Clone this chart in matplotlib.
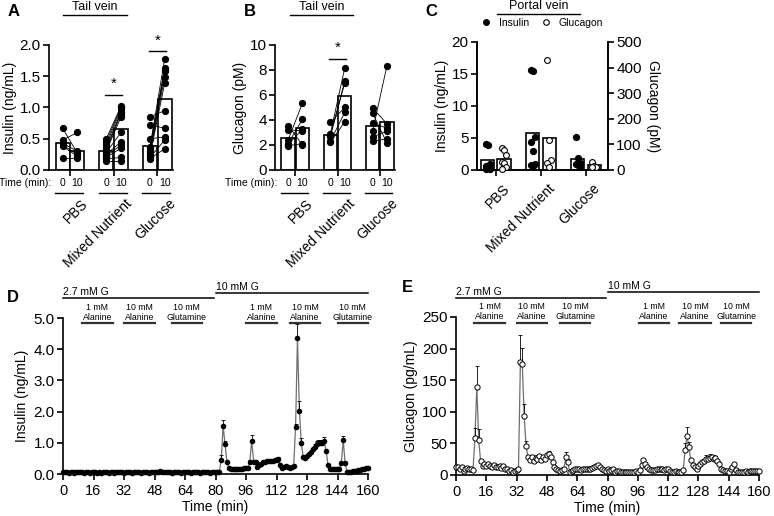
import numpy as np
import matplotlib
matplotlib.use('Agg')
import matplotlib.pyplot as plt
from matplotlib.lines import Line2D

plt.rcParams['font.family'] = ['Liberation Sans', 'DejaVu Sans']
plt.rcParams['axes.linewidth'] = 1.2
plt.rcParams['xtick.major.width'] = 1.2
plt.rcParams['ytick.major.width'] = 1.2
plt.rcParams['xtick.major.size'] = 4
plt.rcParams['ytick.major.size'] = 4
plt.rcParams['ytick.major.pad'] = 2
plt.rcParams['xtick.labelsize'] = 11
plt.rcParams['ytick.labelsize'] = 11

groups = ['PBS', 'Mixed Nutrient', 'Glucose']
time_labels = ['0', '10']

# A: tail vein insulin (ng/mL), paired 0 / 10 min
ins_tail_0 = [[0.67, 0.48, 0.43, 0.40, 0.38, 0.19],
              [0.50, 0.45, 0.40, 0.35, 0.32, 0.30, 0.28, 0.25, 0.22, 0.20, 0.18, 0.15],
              [0.85, 0.72, 0.50, 0.36, 0.35, 0.30, 0.28, 0.25, 0.22, 0.20, 0.18]]
ins_tail_10 = [[0.27, 0.60, 0.30, 0.25, 0.22, 0.19],
               [1.02, 1.00, 0.97, 0.93, 0.90, 0.85, 0.60, 0.45, 0.40, 0.35, 0.20, 0.15],
               [0.95, 0.67, 0.53, 1.78, 1.63, 1.60, 1.58, 1.49, 1.39, 0.48, 0.34]]

# B: tail vein glucagon (pM)
gcg_tail_0 = [[3.55, 3.20, 2.40, 2.10, 2.00, 1.95],
              [3.80, 2.90, 2.75, 2.70, 2.30, 2.20],
              [4.95, 4.55, 3.75, 3.10, 2.65, 2.30]]
gcg_tail_10 = [[2.00, 3.15, 5.35, 4.05, 3.30, 2.10],
               [5.00, 8.15, 7.10, 6.95, 4.60, 3.85],
               [3.70, 2.15, 3.35, 8.35, 3.10, 2.50]]

# C: portal vein insulin (ng/mL) and glucagon (pM)
ins_portal = [[4.1, 3.9, 1.0, 0.7, 0.4, 0.2, 0.1],
              [15.6, 15.5, 5.1, 4.4, 3.0, 0.9, 0.8, 0.7],
              [5.2, 1.9, 1.1, 1.0, 0.8, 0.4]]
gcg_portal = [[85, 78, 58, 30, 26, 12, 5],
              [428, 117, 39, 28, 12],
              [32, 17, 13, 10]]

# D / E: perifusion, one sample per minute
minutes = np.arange(0, 161)
insulin_perif = [0.05, 0.05, 0.05, 0.04, 0.05, 0.05, 0.04, 0.05, 0.05, 0.05,
                 0.05, 0.04, 0.05, 0.05, 0.04, 0.05, 0.05, 0.05, 0.04, 0.05,
                 0.04, 0.05, 0.05, 0.05, 0.04, 0.05, 0.05, 0.04, 0.05, 0.05,
                 0.05, 0.05, 0.04, 0.05, 0.05, 0.05, 0.04, 0.05, 0.05, 0.05,
                 0.05, 0.04, 0.05, 0.05, 0.05, 0.04, 0.05, 0.05, 0.05, 0.06,
                 0.08, 0.09, 0.07, 0.06, 0.05, 0.05, 0.05, 0.04, 0.05, 0.05,
                 0.05, 0.05, 0.04, 0.05, 0.05, 0.05, 0.05, 0.04, 0.05, 0.05,
                 0.05, 0.05, 0.04, 0.05, 0.05, 0.05, 0.05, 0.04, 0.05, 0.05,
                 0.05, 0.05, 0.06, 0.45, 1.54, 0.97, 0.38, 0.20, 0.16, 0.15,
                 0.15, 0.15, 0.16, 0.16, 0.17, 0.18, 0.19, 0.20, 0.40, 1.07,
                 0.40, 0.38, 0.22, 0.28, 0.33, 0.38, 0.40, 0.41, 0.42, 0.42,
                 0.43, 0.44, 0.45, 0.48, 0.30, 0.18, 0.22, 0.25, 0.22, 0.20,
                 0.22, 0.25, 1.50, 4.35, 2.03, 1.00, 0.55, 0.50, 0.58, 0.65,
                 0.72, 0.80, 0.88, 0.95, 1.00, 0.98, 1.00, 1.05, 0.75, 0.30,
                 0.16, 0.15, 0.15, 0.15, 0.15, 0.16, 0.35, 1.08, 0.35, 0.08,
                 0.07, 0.08, 0.09, 0.10, 0.11, 0.12, 0.13, 0.15, 0.16, 0.18, 0.19]
insulin_sem = {83: 0.15, 84: 0.2, 85: 0.1, 98: 0.05, 99: 0.18, 113: 0.07,
               122: 0.1, 123: 0.45, 124: 0.32, 125: 0.15, 132: 0.08, 133: 0.1,
               134: 0.1, 135: 0.12, 136: 0.1, 137: 0.15, 147: 0.15}
glucagon_perif = [12, 13, 10, 12, 7, 10, 11, 9, 10, 8,
                  59, 140, 55, 22, 15, 18, 14, 17, 15, 13,
                  16, 12, 13, 15, 11, 14, 10, 9, 7, 8,
                  5, 6, 8, 10, 179, 176, 94, 46, 29, 24,
                  28, 22, 27, 25, 30, 24, 28, 26, 31, 33,
                  28, 20, 12, 9, 8, 7, 8, 9, 29, 21,
                  5, 7, 8, 9, 9, 10, 8, 9, 10, 9,
                  10, 9, 11, 12, 14, 16, 12, 10, 8, 6,
                  10, 6, 8, 9, 5, 7, 6, 4, 4, 5,
                  4, 5, 4, 5, 5, 6, 5, 8, 16, 24,
                  17, 12, 10, 8, 8, 8, 9, 9, 9, 9,
                  8, 10, 9, 7, 5, 5, 6, 5, 5, 4,
                  8, 40, 62, 44, 23, 16, 12, 10, 14, 18,
                  20, 22, 25, 26, 27, 28, 25, 27, 22, 18,
                  10, 8, 7, 6, 5, 10, 12, 17, 8, 5,
                  5, 4, 5, 6, 5, 6, 6, 7, 6, 6, 6]
glucagon_sem = {10: 15, 11: 33, 12: 18, 34: 43, 35: 25, 36: 18, 37: 8, 39: 7,
                41: 8, 43: 6, 47: 6, 49: 5, 58: 8, 59: 5, 121: 10, 122: 14,
                123: 8, 132: 6, 134: 7, 136: 7}

phase_labels = ['2.7 mM G', '10 mM G']
phase_spans = [(0, 79), (80, 160)]
stim_labels = ['1 mM\nAlanine', '10 mM\nAlanine', '10 mM\nGlutamine'] * 2
stim_spans_d = [(10, 26), (32, 48), (57, 73), (96, 112), (119, 135), (144, 160)]
stim_spans_e = [(9.5, 26), (32, 48), (55, 71), (96.5, 112.5), (118, 134.5), (140, 156)]

fig = plt.figure(figsize=(7.74, 5.16), dpi=100)


def px_axes(l, t, r, b):
    W, H = 774, 516
    return fig.add_axes([l / W, 1 - b / H, (r - l) / W, (b - t) / H])


def clean(ax, right=False):
    ax.spines['top'].set_visible(False)
    if not right:
        ax.spines['right'].set_visible(False)


def paired_panel(ax, pre, post, ylim, yticks, ylabel, fmt, sig):
    for g in range(3):
        xs = [g - 0.17, g + 0.17]
        ax.bar(xs, [np.mean(pre[g]), np.mean(post[g])], width=0.32,
               color='white', edgecolor='black', lw=1.2, zorder=1)
        for a, b in zip(pre[g], post[g]):
            ax.plot(xs, [a, b], color='black', lw=0.6, zorder=2)
        ax.plot([xs[0]] * len(pre[g]), pre[g], 'o', ms=4.2, color='black', zorder=3, clip_on=False)
        ax.plot([xs[1]] * len(post[g]), post[g], 'o', ms=4.2, color='black', zorder=3, clip_on=False)
        tr = ax.get_xaxis_transform()
        for x, lab in zip(xs, time_labels):
            ax.text(x, -0.104, lab, transform=tr, ha='center', va='center', fontsize=7.5)
        ax.add_line(Line2D([g - 0.34, g + 0.30], [-0.184, -0.184], transform=tr,
                           color='black', lw=1.0, clip_on=False))
        ax.text(g + 0.25, -0.21, groups[g], transform=tr, rotation=45, ha='right',
                va='top', rotation_mode='anchor', fontsize=10)
    ax.text(-0.42, -0.104, 'Time (min):', transform=ax.get_xaxis_transform(),
            ha='right', va='center', fontsize=7.5)
    for g, yline in sig:
        ax.plot([g - 0.2, g + 0.2], [yline, yline], color='black', lw=1.0, clip_on=False)
        ax.text(g, yline + (ylim[1] - ylim[0]) * 0.03, '*', ha='center', va='bottom',
                fontsize=11, clip_on=False)
    ax.set_xlim(-0.48, 2.36)
    ax.set_ylim(*ylim)
    ax.set_yticks(yticks)
    ax.set_yticklabels([fmt.format(v) for v in yticks])
    ax.set_xticks(range(3))
    ax.set_xticklabels([])
    ax.set_ylabel(ylabel, fontsize=10, labelpad=2)
    clean(ax)


def header(ax, x0, x1, y, text):
    ax.add_line(Line2D([x0, x1], [y, y], transform=ax.transAxes, color='black',
                       lw=1.0, clip_on=False))
    ax.text((x0 + x1) / 2, y + 0.012, text, transform=ax.transAxes, ha='center',
            va='bottom', fontsize=9)


# Panel A
axA = px_axes(49, 45, 173, 170)
paired_panel(axA, ins_tail_0, ins_tail_10, (0, 2.0), [0, 0.5, 1.0, 1.5, 2.0],
             'Insulin (ng/mL)', '{:.1f}', [(1, 1.2), (2, 1.9)])
header(axA, 0.113, 0.629, 1.24, 'Tail vein')

# Panel B
axB = px_axes(275, 45, 395, 170)
paired_panel(axB, gcg_tail_0, gcg_tail_10, (0, 10), [0, 2, 4, 6, 8, 10],
             'Glucagon (pM)', '{:d}', [(1, 8.9)])
header(axB, 0.125, 0.65, 1.24, 'Tail vein')

# Panel C
axC = px_axes(477, 42, 608, 170)
axC2 = axC.twinx()
for g in range(3):
    xi, xg = g - 0.18, g + 0.18
    axC.bar(xi, np.mean(ins_portal[g]), width=0.29, color='white', edgecolor='black', lw=1.2, zorder=1)
    axC2.bar(xg, np.mean(gcg_portal[g]), width=0.29, color='white', edgecolor='black', lw=1.2, zorder=1)
    n = len(ins_portal[g])
    offs = [((i % 3) - 1) * 0.05 for i in range(n)]
    axC.plot([xi + o for o in offs], ins_portal[g], 'o', ms=4.2, color='black', zorder=3, clip_on=False)
    m = len(gcg_portal[g])
    offs = [((i % 3) - 1) * 0.05 for i in range(m)]
    axC2.plot([xg + o for o in offs], gcg_portal[g], 'o', ms=4.2, mfc='white', mec='black',
              mew=0.8, zorder=3, clip_on=False)
    axC.text(g + 0.15, -0.09, groups[g], transform=axC.get_xaxis_transform(), rotation=45,
             ha='right', va='top', rotation_mode='anchor', fontsize=10)
axC.set_xlim(-0.42, 2.49)
axC.set_ylim(0, 20)
axC.set_yticks([0, 5, 10, 15, 20])
axC2.set_ylim(0, 500)
axC2.set_yticks([0, 100, 200, 300, 400, 500])
axC2.tick_params(axis='y', pad=2)
axC.set_xticks(range(3))
axC.set_xticklabels([])
axC.set_ylabel('Insulin (ng/mL)', fontsize=10, labelpad=2)
axC2.set_ylabel('Glucagon (pM)', fontsize=10, rotation=270, labelpad=13)
axC.spines['top'].set_visible(False)
axC2.spines['top'].set_visible(False)
axC2.spines['right'].set_linewidth(1.2)
header(axC, 0.153, 0.786, 1.22, 'Portal vein')
leg_handles = [Line2D([], [], marker='o', ls='none', ms=4, color='black'),
               Line2D([], [], marker='o', ls='none', ms=4, mfc='white', mec='black', mew=0.8)]
axC.legend(leg_handles, ['Insulin', 'Glucagon'], ncol=2, frameon=False, fontsize=7.5,
           loc='center', bbox_to_anchor=(0.49, 1.148), handletextpad=0.6,
           columnspacing=1.0, handlelength=1.2, borderaxespad=0)


def perifusion(ax, values, sem, default_sem, open_marker, ylim, yticks, fmt, ylabel,
               stim_spans, phase_y):
    err = [sem.get(int(m), default_sem) for m in minutes]
    ax.plot(minutes, values, color='#707070', lw=0.9, zorder=2)
    ax.errorbar(minutes, values, yerr=[np.zeros(len(err)), err], fmt='none',
                ecolor='black', elinewidth=0.6, capsize=1.5, capthick=0.6, zorder=3)
    if open_marker:
        ax.plot(minutes, values, 'o', ms=3.8, mfc='white', mec='black', mew=0.7,
                zorder=4, clip_on=False)
    else:
        ax.plot(minutes, values, 'o', ms=3.0, color='black', zorder=4, clip_on=False)
    ax.set_xlim(0, 160)
    ax.set_ylim(*ylim)
    ax.set_xticks(range(0, 161, 16))
    ax.tick_params(axis='x', labelsize=10.5)
    ax.set_yticks(yticks)
    ax.set_yticklabels([fmt.format(v) for v in yticks])
    ax.set_xlabel('Time (min)', fontsize=10, labelpad=1)
    ax.set_ylabel(ylabel, fontsize=10, labelpad=3)
    clean(ax)
    tr = ax.get_xaxis_transform()
    for (x0, x1), lab, y in zip(phase_spans, phase_labels, phase_y):
        ax.add_line(Line2D([x0, x1], [y, y], transform=tr, color='black', lw=1.1, clip_on=False))
        ax.text(x0, y + 0.005, lab, transform=tr, ha='left', va='bottom', fontsize=7.5)
    for (x0, x1), lab in zip(stim_spans, stim_labels):
        ax.add_line(Line2D([x0, x1], [0.965, 0.965], transform=tr, color='#333333',
                           lw=1.6, clip_on=False))
        ax.text((x0 + x1) / 2, 0.975, lab, transform=tr, ha='center', va='bottom',
                fontsize=6.3, linespacing=1.15)


axD = px_axes(63, 318, 368, 474)
perifusion(axD, insulin_perif, insulin_sem, 0.02, False, (0, 5.0),
           [0, 1, 2, 3, 4, 5], '{:.1f}', 'Insulin (ng/mL)', stim_spans_d, [1.128, 1.16])

axE = px_axes(456, 317, 759, 475)
perifusion(axE, glucagon_perif, glucagon_sem, 2, True, (0, 250),
           [0, 50, 100, 150, 200, 250], '{:d}', 'Glucagon (pg/mL)', stim_spans_e, [1.12, 1.158])

for letter, x, y in [('A', 8, 12), ('B', 244, 12), ('C', 425, 12), ('D', 7, 298), ('E', 402, 287)]:
    fig.text(x / 774, 1 - y / 516, letter, fontsize=12, fontweight='bold', ha='left', va='center')

fig.savefig('out.png', dpi=100)
